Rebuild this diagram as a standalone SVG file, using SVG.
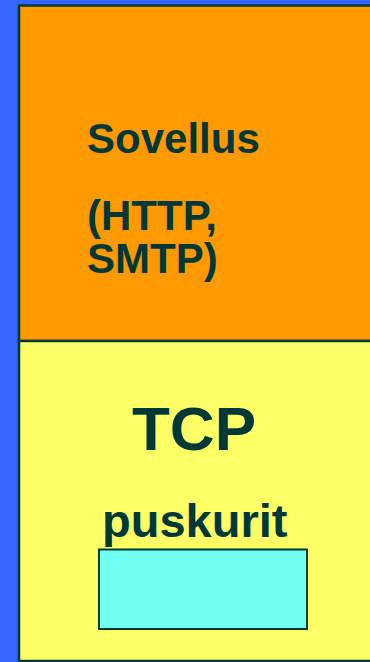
<svg xmlns="http://www.w3.org/2000/svg" width="370" height="662" viewBox="0 0 370 662">
<style>
.box{stroke:#003838;stroke-width:2.5}
.t{font-family:"Liberation Sans",Arial,sans-serif;font-weight:bold;fill:#003838}
</style>
<rect x="0" y="0" width="370" height="662" fill="#3366FF"/>
<g id="sovellus">
<rect class="box" x="19" y="5.5" width="360" height="335.5" fill="#FF9900"/>
<text class="t" x="87" y="153" font-size="42">Sovellus</text>
<text class="t" x="87" y="230" font-size="42">(HTTP,</text>
<text class="t" x="87" y="273" font-size="42">SMTP)</text>
</g>
<g id="tcp">
<rect class="box" x="19" y="341" width="360" height="320" fill="#FFFF66"/>
<text class="t" x="194" y="450" font-size="62" text-anchor="middle">TCP</text>
<text class="t" x="102" y="537" font-size="47">puskurit</text>
</g>
<g id="puskurit">
<rect x="99" y="549.5" width="208" height="79.5" fill="#70FFEE" stroke="#003838" stroke-width="2"/>
</g>
<g id="connectors"/>
</svg>
